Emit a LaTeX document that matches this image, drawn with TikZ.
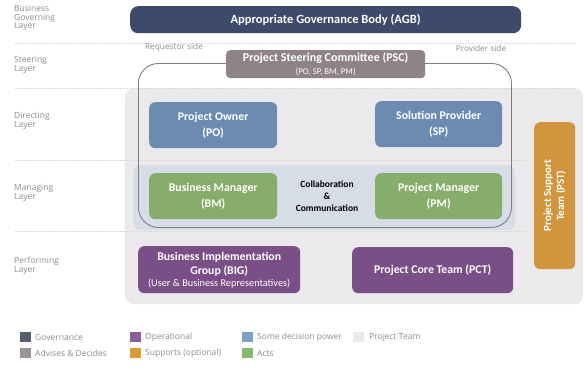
\documentclass[tikz,border=0pt]{standalone}
\usepackage{fontspec}
\setmainfont{Carlito}
\newfontfamily\lblfont{Open Sans}
\definecolor{cgov}{HTML}{3E4A6A}
\definecolor{cpsc}{HTML}{8F8386}
\definecolor{cblue}{HTML}{6B8CB0}
\definecolor{cgreen}{HTML}{87AD6C}
\definecolor{cpurple}{HTML}{7A4F87}
\definecolor{corange}{HTML}{D1953D}
\definecolor{cbg}{HTML}{EBE9EB}
\definecolor{cband}{HTML}{D6DDE7}
\definecolor{coutline}{HTML}{857A7E}
\definecolor{csep}{HTML}{DADADA}
\definecolor{clbl}{HTML}{8C8C8C}
\definecolor{lgov}{HTML}{555F72}
\definecolor{lpsc}{HTML}{9B9396}
\definecolor{lblue}{HTML}{7FA0C2}
\definecolor{lgreen}{HTML}{86B870}
\definecolor{lpurple}{HTML}{8A5F98}
\definecolor{lorange}{HTML}{D99A3A}
\begin{document}
\begin{tikzpicture}[x=1pt,y=-1pt,
  box/.style={rounded corners=6pt, text=white, align=center, inner sep=0pt,
    anchor=north west, font=\bfseries\fontsize{11.8}{15.5}\selectfont},
  layerlbl/.style={anchor=west, align=left, inner sep=0pt, text=clbl,
    font=\lblfont\fontsize{8.5}{8.5}\selectfont},
  sidelbl/.style={inner sep=0pt, text=clbl, font=\lblfont\fontsize{8.3}{9}\selectfont},
  sepline/.style={draw=csep, line width=0.6pt, dash pattern=on 2pt off 1pt},
  legsq/.style={anchor=north west, inner sep=0pt, minimum width=11, minimum height=10},
  legtxt/.style={anchor=west, inner sep=0pt, text=clbl, font=\lblfont\fontsize{8.5}{9}\selectfont}
]
\useasboundingbox (0,0) rectangle (584,370);
\fill[white] (0,0) rectangle (584,370);

% project team background
\node[anchor=north west, fill=cbg, rounded corners=9pt, minimum width=458, minimum height=216, inner sep=0pt] (team) at (125,88) {};

% separators
\draw[sepline] (15,43) -- (575,43);
\draw[sepline] (15,88) -- (575,88);
\draw[sepline] (15,160) -- (528,160);
\draw[sepline] (15,231) -- (528,231);

% managing band
\node[anchor=north west, fill=cband, rounded corners=8pt, minimum width=382, minimum height=65, inner sep=0pt] (band) at (133,165) {};

% steering committee scope outline
\node[anchor=north west, draw=coutline, line width=0.9pt, rounded corners=20pt, minimum width=373, minimum height=164, inner sep=0pt] (scope) at (138,63) {};

% layer labels
\node[layerlbl] (l1) at (14,18) {Business\\Governing\\Layer};
\node[layerlbl] (l2) at (14,65) {Steering\\Layer};
\node[layerlbl] (l3) at (14,121) {Directing\\Layer};
\node[layerlbl] (l4) at (14,193) {Managing\\Layer};
\node[layerlbl] (l5) at (14,266) {Performing\\Layer};

% side labels
\node[sidelbl] (req) at (174,47) {Requestor side};
\node[sidelbl] (prov) at (481,48) {Provider side};

% boxes
\node[box, fill=cgov, rounded corners=8pt, minimum width=391, minimum height=27,
  font=\bfseries\fontsize{12.5}{14}\selectfont] (agb) at (130,6) {Appropriate Governance Body (AGB)};
\node[box, fill=cpsc, rounded corners=4pt, minimum width=199, minimum height=28] (psc) at (226,50)
  {{\fontsize{12}{13}\selectfont Project Steering Committee (PSC)}\\[-3pt]{\mdseries\fontsize{8.8}{9}\selectfont (PO, SP, BM, PM)}};
\node[box, fill=cblue, minimum width=128, minimum height=46] (po) at (149,102) {Project Owner\\(PO)};
\node[box, fill=cblue, minimum width=127, minimum height=46] (sp) at (375,101) {Solution Provider\\(SP)};
\node[box, fill=cgreen, minimum width=128, minimum height=46] (bm) at (149,173) {Business Manager\\(BM)};
\node[box, fill=cgreen, minimum width=127, minimum height=46] (pm) at (375,173) {Project Manager\\(PM)};
\node[align=center, inner sep=0pt, font=\bfseries\fontsize{9.5}{12}\selectfont] (collab) at (327,196)
  {Collaboration\\\&\\Communication};
\node[box, fill=cpurple, minimum width=162, minimum height=47, font=\bfseries\fontsize{11.8}{14}\selectfont] (big) at (138,246)
  {Business Implementation\\Group (BIG)\\[-2pt]{\mdseries\fontsize{10.3}{11}\selectfont(User \& Business Representatives)}};
\node[box, fill=cpurple, minimum width=161, minimum height=46] (pct) at (352,247) {Project Core Team (PCT)};
\node[box, fill=corange, minimum width=41, minimum height=147] (pst) at (534,122) {};
\node[rotate=90, align=center, inner sep=0pt, text=white, font=\bfseries\fontsize{11}{13}\selectfont] (psttxt) at (pst.center)
  {Project Support\\Team (PST)};

% legend
\node[legsq, fill=lgov] (sq1) at (20,332) {};
\node[legtxt] (t1) at (35,337) {Governance};
\node[legsq, fill=lpsc] (sq2) at (20,348) {};
\node[legtxt] (t2) at (35,353) {Advises \& Decides};
\node[legsq, fill=lpurple] (sq3) at (130,332) {};
\node[legtxt] (t3) at (145,337) {Operational};
\node[legsq, fill=lorange] (sq4) at (130,348) {};
\node[legtxt] (t4) at (145,353) {Supports (optional)};
\node[legsq, fill=lblue] (sq5) at (242,332) {};
\node[legtxt] (t5) at (257,337) {Some decision power};
\node[legsq, fill=lgreen] (sq6) at (242,348) {};
\node[legtxt] (t6) at (257,353) {Acts};
\node[legsq, fill=cbg] (sq7) at (353,332) {};
\node[legtxt] (t7) at (369,337) {Project Team};
\end{tikzpicture}
\end{document}
